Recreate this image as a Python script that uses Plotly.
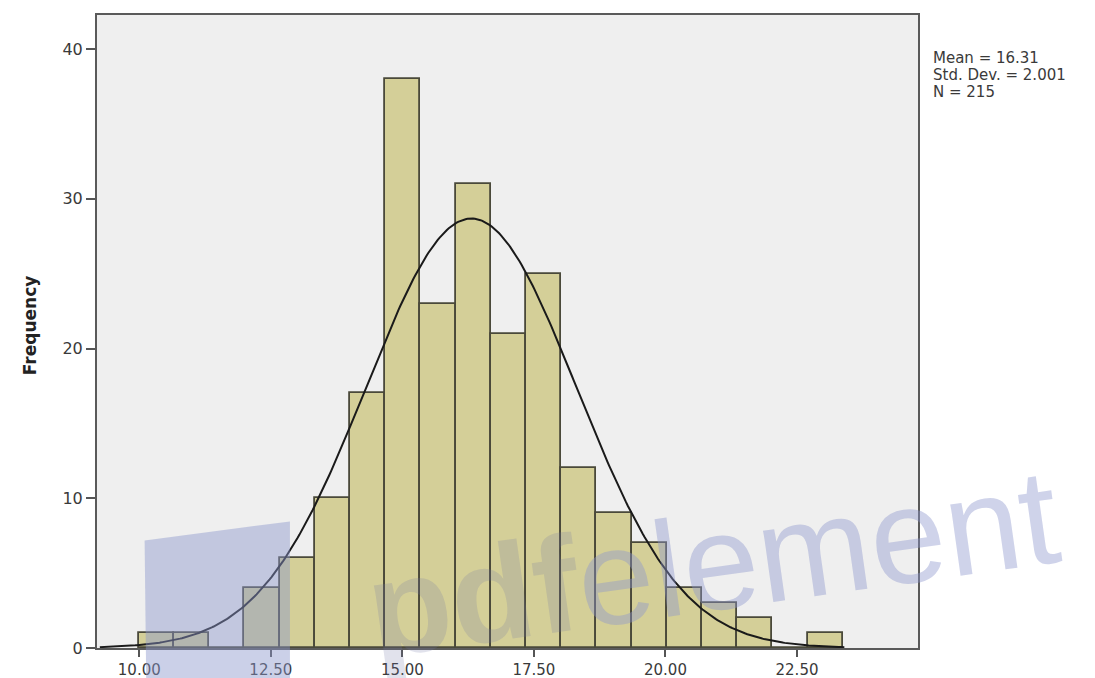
import numpy as np
import plotly.graph_objects as go

# Histogram data
bin_start = 9.99
bin_width = 0.669
counts = [1, 1, 0, 4, 6, 10, 17, 38, 23, 31, 21, 25, 12, 9, 7, 4, 3, 2, 0, 1]
mean_val = 16.31
sd_val = 2.001
n_val = 215
x_ticks = [10.0, 12.5, 15.0, 17.5, 20.0, 22.5]
x_tick_labels = ["10.00", "12.50", "15.00", "17.50", "20.00", "22.50"]
y_ticks = [0, 10, 20, 30, 40]
stats_lines = ["Mean = 16.31", "Std. Dev. = 2.001", "N = 215"]

centers = [bin_start + bin_width * (i + 0.5) for i in range(len(counts))]

fig = go.Figure()
fig.add_trace(go.Bar(
    x=centers, y=counts, width=bin_width,
    marker=dict(color="#d4cf98", line=dict(color="#4a493a", width=1.8)),
    showlegend=False, hoverinfo="x+y",
))

xc = np.linspace(9.25, 23.4, 400)
yc = n_val * bin_width * np.exp(-0.5 * ((xc - mean_val) / sd_val) ** 2) / (sd_val * np.sqrt(2 * np.pi))
fig.add_trace(go.Scatter(x=xc, y=yc, mode="lines", line=dict(color="#1a1a1a", width=2),
                         showlegend=False, hoverinfo="skip"))

font_family = "DejaVu Sans, Arial, sans-serif"
txt_color = "#3a3a3a"

fig.update_layout(
    width=1087, height=678,
    margin=dict(l=89, r=177, t=7, b=38, autoexpand=False),
    paper_bgcolor="white",
    plot_bgcolor="#efefef",
    bargap=0,
    font=dict(family=font_family, color=txt_color, size=16),
    xaxis=dict(range=[9.196, 24.80], tickvals=x_ticks, ticktext=x_tick_labels,
               ticks="outside", ticklen=7, tickcolor="#555", tickwidth=2,
               showgrid=False, zeroline=False, showline=True, linecolor="#5a5a5a",
               linewidth=2, mirror=True, automargin=False,
               tickfont=dict(size=15, color=txt_color)),
    yaxis=dict(range=[0, 42.27], tickvals=y_ticks, ticks="outside", ticklen=9,
               tickcolor="#555", tickwidth=2, showgrid=False, zeroline=False,
               showline=True, linecolor="#5a5a5a", linewidth=2, mirror=True,
               automargin=False,
               tickfont=dict(size=16, color=txt_color)),
)

# y-axis title
fig.add_annotation(
    xref="paper", yref="paper", x=-0.0816, y=0.51, xanchor="center", yanchor="middle",
    text="<b>Frequency</b>", showarrow=False, textangle=-90,
    font=dict(size=17, color="#222", family=font_family),
)

# statistics box text
stat_y = [0.9315, 0.905, 0.8785]
for line, yy in zip(stats_lines, stat_y):
    fig.add_annotation(
        xref="paper", yref="paper", x=1.016, y=yy, xanchor="left", yanchor="middle",
        text=line, showarrow=False, align="left",
        font=dict(size=15, color=txt_color, family=font_family),
    )

# watermark
fig.add_shape(type="path", xref="paper", yref="paper",
              path="M 0.058 0.17 L 0.235 0.2 L 0.235 -0.06 L 0.06 -0.06 Z",
              fillcolor="rgba(140,150,205,0.45)", line=dict(width=0), layer="above")
fig.add_annotation(
    xref="paper", yref="paper", x=0.75, y=0.135, xanchor="center", yanchor="middle",
    text="<span style='color:rgba(115,120,165,0.5)'><b>pdf</b></span>element",
    showarrow=False, textangle=-8,
    font=dict(size=136, color="rgba(140,150,205,0.42)", family="Liberation Sans, Arial, sans-serif"),
)

fig.write_html("out.html")
